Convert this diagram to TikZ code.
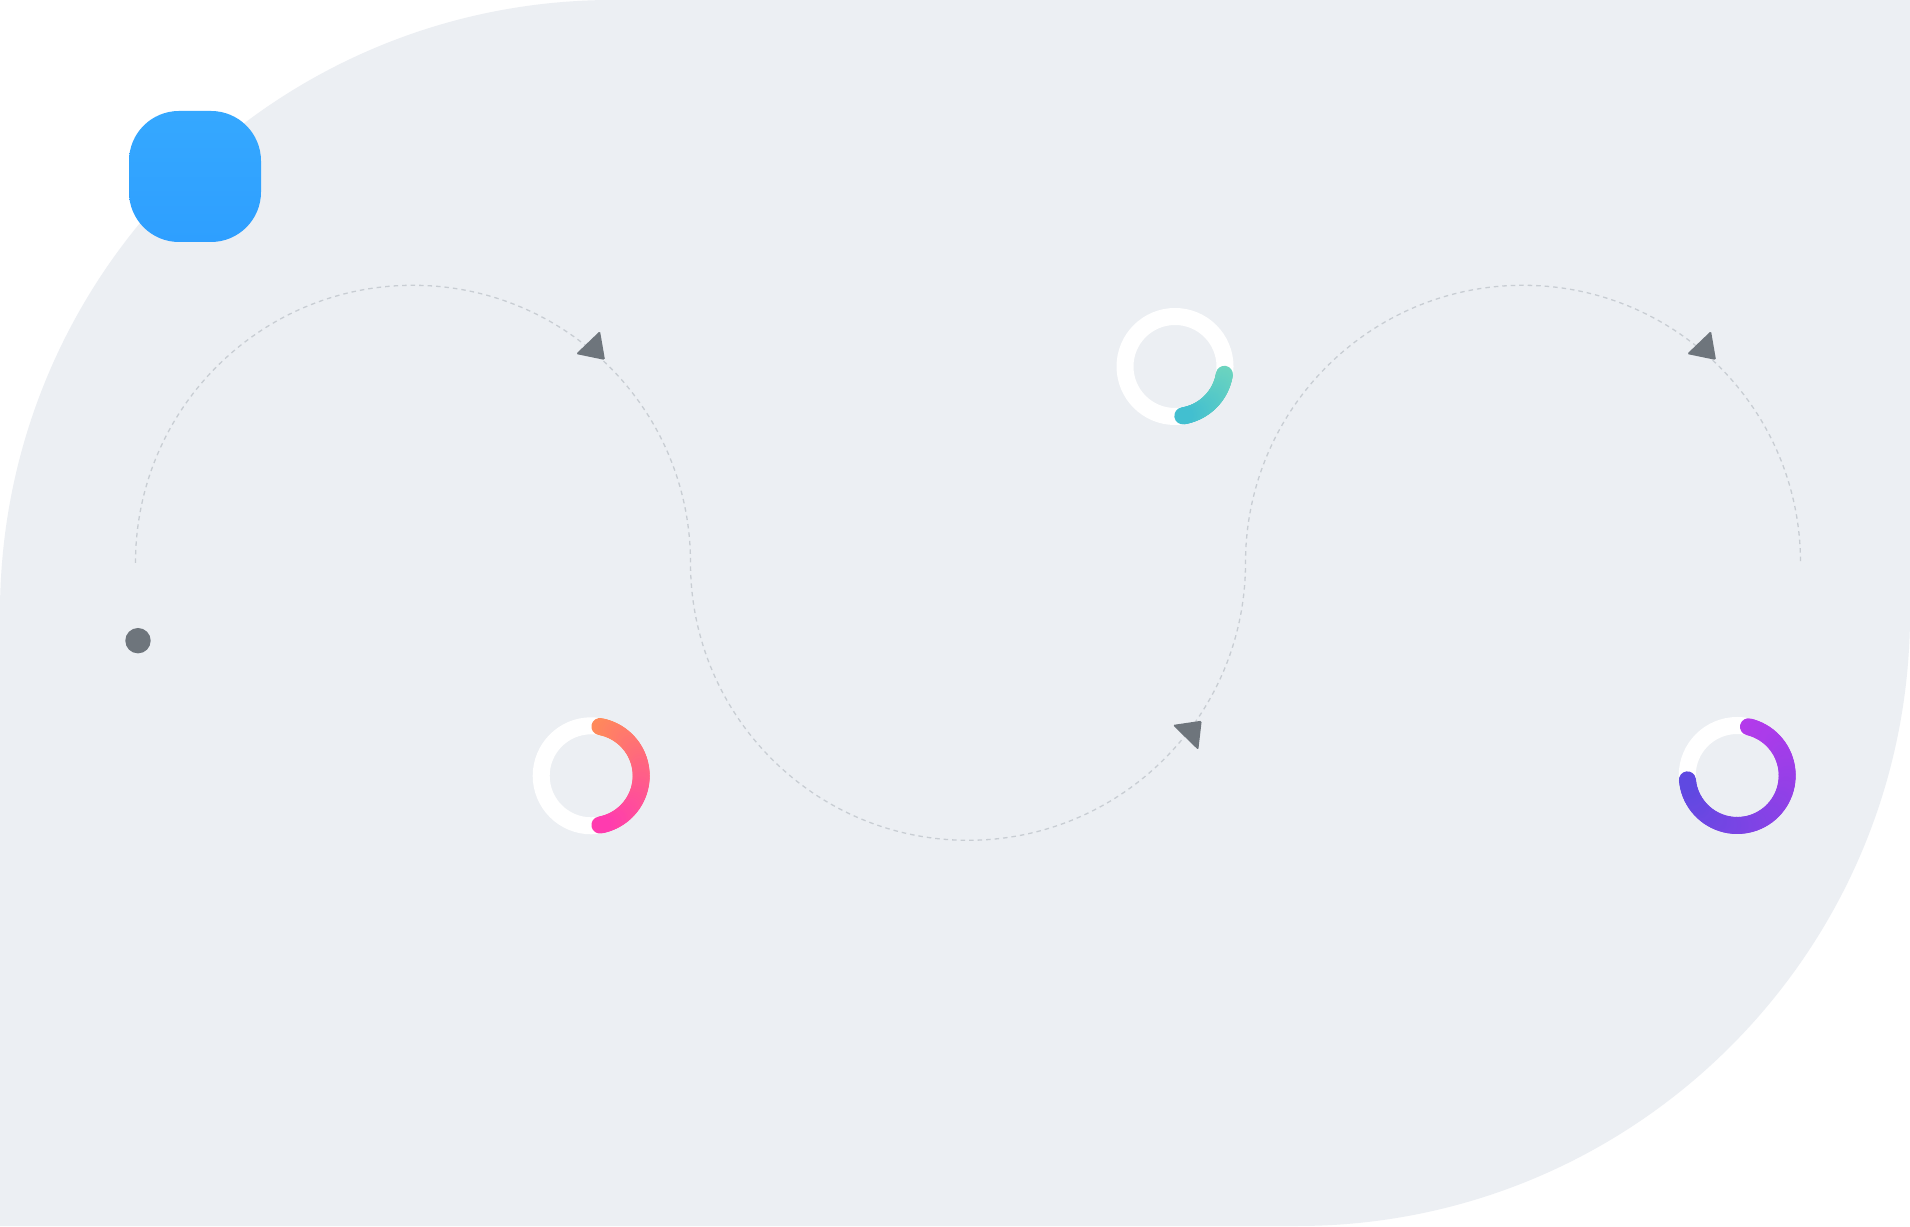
\documentclass[tikz,border=0pt]{standalone}
\definecolor{bg}{HTML}{ECEFF3}
\definecolor{blueA}{HTML}{35A8FF}
\definecolor{blueB}{HTML}{2E9FFF}
\definecolor{dashc}{HTML}{C8CDD3}
\definecolor{arrowc}{HTML}{6E757C}
\definecolor{tealA}{HTML}{6CD4BF}
\definecolor{tealB}{HTML}{42BFD0}
\definecolor{pinkA}{HTML}{FF8A5A}
\definecolor{pinkB}{HTML}{FF3BAF}
\definecolor{purpA}{HTML}{B43AEB}
\definecolor{purpB}{HTML}{5F49E1}
\tikzset{
  dashline/.style={draw=dashc, line width=1.3pt, dash pattern=on 4.5pt off 4pt},
  arrowtri/.style={fill=arrowc, rounded corners=1.5pt},
  basering/.style={draw=white, line width=17pt},
}
\newcommand{\gradarc}[6]{%
  \foreach \i in {0,...,59}{%
    \pgfmathsetmacro\aa{#3+(#4-#3)*\i/60}%
    \pgfmathsetmacro\ab{#3+(#4-#3)*(\i+1)/60}%
    \pgfmathtruncatemacro\pct{100*\i/59}%
    \draw[line width=17pt, line cap=round, color=#6!\pct!#5]
      ({#1+50*cos(\aa)},{#2+50*sin(\aa)}) arc[start angle=\aa, end angle=\ab, radius=50];
  }%
}
\begin{document}
\begin{tikzpicture}[x=1pt,y=1pt]
\useasboundingbox (0,0) rectangle (1910,1226);
\fill[white] (0,0) rectangle (1910,1226);
% background shape
\fill[bg] (0,0) -- (0,613) arc[start angle=180,end angle=90,radius=613]
  -- (1910,1226) -- (1910,613) arc[start angle=0,end angle=-90,radius=613] -- cycle;
% blue rounded square
\shade[rounded corners=50pt, top color=blueA, bottom color=blueB] (129,984) rectangle (261,1115);
% dashed wave
\draw[dashline] (135.5,663.2) arc[start angle=180,end angle=0,radius=277.5]
  arc[start angle=180,end angle=360,radius=277.5]
  arc[start angle=180,end angle=0,radius=277.5];
% arrowheads
\fill[arrowtri] (600,895) -- (576,872) -- (605,866) -- cycle;
\fill[arrowtri] (1201.7,505.3) -- (1172.7,501) -- (1198.3,476) -- cycle;
\fill[arrowtri] (1711,895) -- (1687,872) -- (1716,866) -- cycle;
% start dot
\fill[arrowc] (138,585.3) circle[radius=12.7];
% rings
\draw[basering] (1175,859.5) circle[radius=50];
\gradarc{1175}{859.5}{-9}{-81}{tealA}{tealB}
\draw[basering] (591.2,450.2) circle[radius=50];
\gradarc{591.2}{450.2}{80}{-80}{pinkA}{pinkB}
\draw[basering] (1737.2,450.5) circle[radius=50];
\gradarc{1737.2}{450.5}{77}{-175}{purpA}{purpB}
\end{tikzpicture}
\end{document}
